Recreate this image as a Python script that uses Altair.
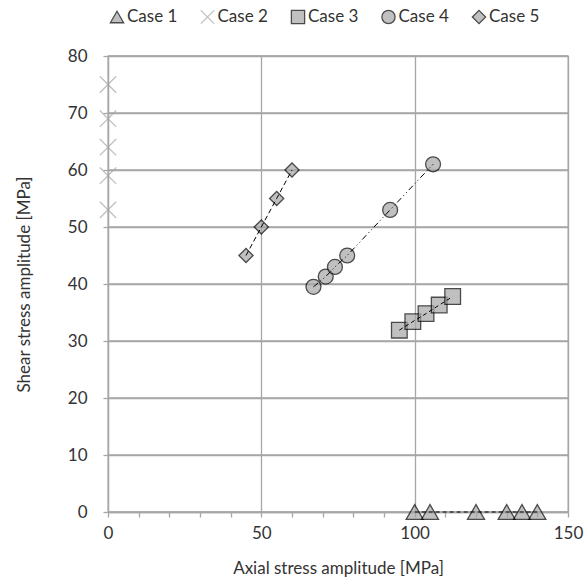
import altair as alt
import pandas as pd

# ---- data ----
cases = ["Case 1", "Case 2", "Case 3", "Case 4", "Case 5"]
case1_x = [100, 105, 120, 130, 135, 140]
case1_y = [0, 0, 0, 0, 0, 0]
case2_x = [0, 0, 0, 0, 0]
case2_y = [75, 69, 64, 59, 53]
case3_x = [95, 99.4, 103.7, 108, 112.4]
case3_y = [31.9, 33.4, 34.8, 36.3, 37.8]
case4_x = [67, 71, 74, 78, 92, 106]
case4_y = [39.5, 41.3, 43, 45, 53, 61]
case5_x = [45, 50, 55, 60]
case5_y = [45, 50, 55, 60]
x_domain = [0, 150]
y_domain = [0, 80]
x_ticks = list(range(0, 151, 10))
y_ticks = list(range(0, 81, 10))

xs = [case1_x, case2_x, case3_x, case4_x, case5_x]
ys = [case1_y, case2_y, case3_y, case4_y, case5_y]
rows = []
for c, xx, yy in zip(cases, xs, ys):
    for i, (a, b) in enumerate(zip(xx, yy)):
        rows.append({"case": c, "x": a, "y": b, "order": i})
df = pd.DataFrame(rows)

grid_rows = []
for v in y_ticks:
    for xv in x_domain:
        grid_rows.append({"gx": xv, "gy": v, "g": v})
df_grid = pd.DataFrame(grid_rows)

FONT = "Lato"
TXT = "#333333"
GRID = "#a6a6a6"
MARK = "#a6a6a6"

cross = "M-1,-1L1,1M-1,1L1,-1"
shape_scale = alt.Scale(domain=cases, range=["triangle-up", cross, "square", "circle", "diamond"])
fill_scale = alt.Scale(domain=cases, range=[MARK, MARK, MARK, MARK, MARK])
stroke_scale = alt.Scale(domain=cases, range=["#000000", MARK, "#000000", "#000000", "#000000"])
size_scale = alt.Scale(domain=cases, range=[290, 200, 280, 310, 225])

x_axis = alt.Axis(
    title="Axial stress amplitude [MPa]",
    values=x_ticks,
    labelExpr="datum.value % 50 === 0 ? datum.label : ''",
    labelOverlap=False, labelFlush=False,
    grid=True,
    gridOpacity={"condition": {"test": "datum.value % 50 === 0", "value": 1}, "value": 0},
    titleX=230, titleY=56, titleBaseline="middle",
    labelPadding=8,
)
y_axis = alt.Axis(
    title="Shear stress amplitude [MPa]",
    values=y_ticks,
    grid=True, labelOverlap=False, labelFlush=False,
    titleX=-84, titleY=228, titleAngle=270, titleBaseline="middle",
    labelPadding=16,
)
x_scale = alt.Scale(domain=x_domain, nice=False, zero=False)
y_scale = alt.Scale(domain=y_domain, nice=False)
x_enc = alt.X("x:Q", scale=x_scale, axis=x_axis)
y_enc = alt.Y("y:Q", scale=y_scale, axis=y_axis)

# horizontal gridlines drawn through the data scales
ygrid = alt.Chart(df_grid).mark_line(color=GRID, strokeWidth=1.3).encode(
    x=alt.X("gx:Q", scale=x_scale, axis=x_axis),
    y=alt.Y("gy:Q", scale=y_scale, axis=y_axis),
    detail="g:N",
)

points = alt.Chart(df).mark_point(strokeWidth=1.3, filled=True).encode(
    x=x_enc, y=y_enc,
    shape=alt.Shape("case:N", scale=shape_scale, legend=None),
    fill=alt.Fill("case:N", scale=fill_scale, legend=None),
    stroke=alt.Stroke("case:N", scale=stroke_scale, legend=None),
    size=alt.Size("case:N", scale=size_scale, legend=None),
)

dashes = {"Case 1": [4, 3], "Case 3": [4, 3], "Case 4": [6, 3, 1, 3, 1, 3], "Case 5": [5, 3]}
line_layers = []
for c, d in dashes.items():
    line_layers.append(
        alt.Chart(df[df["case"] == c]).mark_line(color="#000000", strokeWidth=1, strokeDash=d).encode(
            x=x_enc, y=y_enc, order="order:Q",
        )
    )

main = alt.layer(ygrid, points, *line_layers)

# legend row (top), drawn from the case list with its own point scale
df_leg = pd.DataFrame({"case": cases})
leg_x = alt.X("case:N", scale=alt.Scale(type="point", domain=cases, range=[9, 371], padding=0), axis=None)
leg_sym = alt.Chart(df_leg).mark_point(filled=True, size=175, strokeWidth=1.3).encode(
    x=leg_x, y=alt.value(-39),
    shape=alt.Shape("case:N", scale=shape_scale, legend=None),
    fill=alt.Fill("case:N", scale=fill_scale, legend=None),
    stroke=alt.Stroke("case:N", scale=stroke_scale, legend=None),
)
leg_txt = alt.Chart(df_leg).mark_text(
    align="left", baseline="middle", dx=10, font=FONT, fontSize=17, color=TXT,
).encode(x=leg_x, y=alt.value(-39), text="case:N")
legend_layer = alt.layer(leg_sym, leg_txt)

chart = alt.layer(main, legend_layer).resolve_scale(x="independent").properties(
    width=460, height=456,
    background="white",
    autosize=alt.AutoSizeParams(type="none"),
    padding={"left": 108, "top": 56, "right": 17, "bottom": 68},
).configure_view(stroke=GRID, strokeWidth=1.3).configure_axis(
    labelFont=FONT, labelFontSize=17, labelColor=TXT,
    titleFont=FONT, titleFontSize=17, titleColor=TXT, titleFontWeight="normal",
    domainColor=GRID, domainWidth=1.3, gridColor=GRID, gridWidth=1.3,
    tickColor=GRID, tickWidth=1.3, tickSize=5,
)

chart.save("out.html", embed_options={"renderer": "svg", "actions": False})
